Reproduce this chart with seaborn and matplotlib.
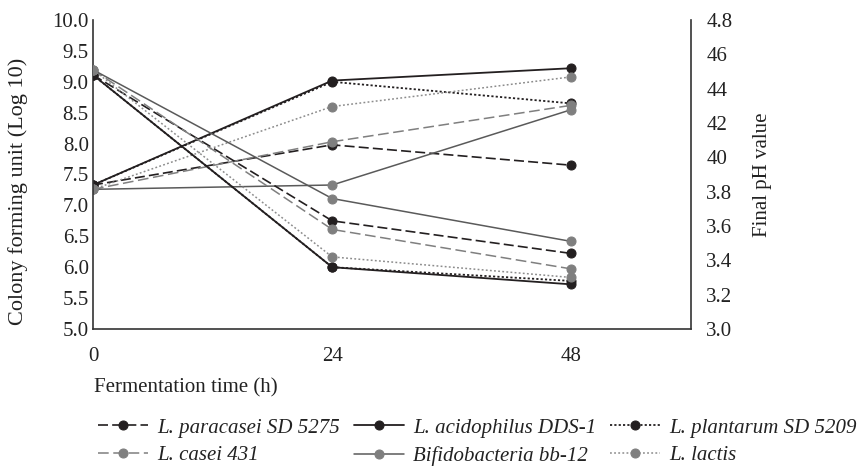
import numpy as np
import matplotlib
matplotlib.use("Agg")
import matplotlib.pyplot as plt
import seaborn as sns
import pandas as pd

# fermentation time points (h)
time_h = [0, 24, 48]

strains = ["L. paracasei SD 5275", "L. acidophilus DDS-1", "L. plantarum SD 5209",
           "L. casei 431", "Bifidobacteria bb-12", "L. lactis"]

# colony forming unit (log 10)
cfu_paracasei = [7.33, 7.98, 7.65]
cfu_acidophilus = [7.33, 9.02, 9.22]
cfu_plantarum = [7.33, 9.00, 8.65]
cfu_casei = [7.26, 8.03, 8.62]
cfu_bifido = [7.26, 7.33, 8.55]
cfu_lactis = [7.26, 8.60, 9.08]

# final pH value
ph_paracasei = [4.48, 3.63, 3.44]
ph_acidophilus = [4.48, 3.36, 3.26]
ph_plantarum = [4.48, 3.36, 3.28]
ph_casei = [4.51, 3.58, 3.35]
ph_bifido = [4.51, 3.76, 3.51]
ph_lactis = [4.51, 3.42, 3.30]

left_ticks = [5.0, 5.5, 6.0, 6.5, 7.0, 7.5, 8.0, 8.5, 9.0, 9.5, 10.0]
right_ticks = [3.0, 3.2, 3.4, 3.6, 3.8, 4.0, 4.2, 4.4, 4.6, 4.8]
right_labels = ["3.0", "3.2", "3.4", "3.6", "3.8", "40", "42", "44", "46", "4.8"]

cfu_all = [cfu_paracasei, cfu_acidophilus, cfu_plantarum, cfu_casei, cfu_bifido, cfu_lactis]
ph_all = [ph_paracasei, ph_acidophilus, ph_plantarum, ph_casei, ph_bifido, ph_lactis]

black = "#231f20"
grey = "#7f7f7f"
# (line colour, marker colour, linestyle, linewidth)
styles = [
    (black, black, (0, (6, 2.5)), 1.2),
    (black, black, "-", 1.3),
    (black, black, (0, (1.2, 1.2)), 1.3),
    (grey, grey, (0, (7, 3)), 1.1),
    ("#5a5a5a", grey, "-", 1.1),
    ("#8c8c8c", grey, (0, (1.2, 1.5)), 1.1),
]

sns.set_theme(style="white")
plt.rcParams["font.family"] = ["Liberation Serif", "DejaVu Serif"]
plt.rcParams["font.size"] = 15

fig = plt.figure(figsize=(8.64, 4.68), dpi=100)
ax = fig.add_axes([93 / 864, 1 - 329 / 468, (691 - 93) / 864, (329 - 20) / 468])
ax2 = ax.twinx()

handles = []
for name, cfu, ph, (lc, mc, ls, lw) in zip(strains, cfu_all, ph_all, styles):
    df = pd.DataFrame({"time": time_h, "cfu": cfu, "ph": ph})
    sns.lineplot(data=df, x="time", y="cfu", ax=ax, color=lc, linestyle=ls, linewidth=lw,
                 marker="o", markersize=6.5, markerfacecolor=mc, markeredgecolor=mc,
                 legend=False)
    sns.lineplot(data=df, x="time", y="ph", ax=ax2, color=lc, linestyle=ls, linewidth=lw,
                 marker="o", markersize=6.5, markerfacecolor=mc, markeredgecolor=mc,
                 legend=False)
    handles.append(ax.get_lines()[-1])

ax.set_xlim(0, 60)
ax.set_ylim(5.0, 10.0)
ax2.set_ylim(3.0, 4.8)
ax.set_xticks(time_h)
ax.set_xticklabels([str(t) for t in time_h])
ax.set_yticks(left_ticks)
ax.set_yticklabels(["%.1f" % v for v in left_ticks])
ax2.set_yticks(right_ticks)
ax2.set_yticklabels(right_labels)

ax.tick_params(axis="both", length=0, colors="#222222", labelsize=15)
ax.tick_params(axis="x", pad=13)
ax.tick_params(axis="y", pad=3)
ax2.tick_params(axis="y", length=0, pad=11, colors="#222222", labelsize=15)

for a in (ax, ax2):
    for side in ["top", "left", "right", "bottom"]:
        a.spines[side].set_visible(False)
ax.spines["left"].set_visible(True)
ax.spines["bottom"].set_visible(True)
ax2.spines["right"].set_visible(True)
for sp in (ax.spines["left"], ax.spines["bottom"], ax2.spines["right"]):
    sp.set_color("#333333")
    sp.set_linewidth(1.2)

ax.set_xlabel("")
ax.set_ylabel("Colony forming unit (Log 10)", fontsize=16, color="#222222")
ax.yaxis.set_label_coords(-0.109, 0.445)
ax2.set_ylabel("Final pH value", fontsize=15, color="#222222")
ax2.yaxis.set_label_coords(1.104, 0.5)

fig.text(94 / 864, 1 - 388 / 468, "Fermentation time (h)", ha="left", va="center",
         fontsize=15, color="#222222")

order = [0, 3, 1, 4, 2, 5]
leg = fig.legend([handles[i] for i in order], [strains[i] for i in order], ncol=3,
                 loc="upper left", bbox_to_anchor=(98 / 864, 1 - 418 / 468),
                 frameon=False, borderpad=0, borderaxespad=0, handlelength=2.4,
                 handletextpad=0.45, columnspacing=0.65, labelspacing=0.4,
                 prop={"family": ["Liberation Serif"], "style": "italic", "size": 15})
for t in leg.get_texts():
    t.set_color("#222222")

fig.savefig("out.png", dpi=100)
